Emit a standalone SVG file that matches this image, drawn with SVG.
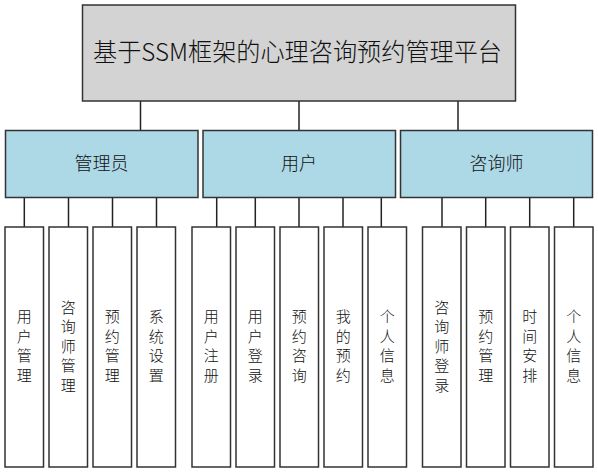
<svg xmlns="http://www.w3.org/2000/svg" width="598" height="473" viewBox="0 0 598 473">
<style>
text{font-family:"Noto Sans CJK SC","Microsoft YaHei",sans-serif;font-weight:300;fill:#111;text-anchor:middle}
.root{fill:#d3d3d3;stroke:#333;stroke-width:1.5}
.mid{fill:#add8e6;stroke:#333;stroke-width:1.5}
.leaf{fill:#fff;stroke:#333;stroke-width:1.5}
.t1{font-size:25px}
.t2{font-size:18px}
.t3{font-size:15px}
#connectors line{stroke:#222;stroke-width:1.5}
</style>
<rect width="598" height="473" fill="#fff"/>
<g id="connectors">
<line x1="140.5" y1="101" x2="140.5" y2="130.5"/>
<line x1="299" y1="101" x2="299" y2="130.5"/>
<line x1="458" y1="101" x2="458" y2="130.5"/>
<line x1="24.3" y1="197.7" x2="24.3" y2="227"/>
<line x1="68.5" y1="197.7" x2="68.5" y2="227"/>
<line x1="112.5" y1="197.7" x2="112.5" y2="227"/>
<line x1="156.5" y1="197.7" x2="156.5" y2="227"/>
<line x1="216.7" y1="197.7" x2="216.7" y2="227"/>
<line x1="255.3" y1="197.7" x2="255.3" y2="227"/>
<line x1="299" y1="197.7" x2="299" y2="227"/>
<line x1="343" y1="197.7" x2="343" y2="227"/>
<line x1="381.3" y1="197.7" x2="381.3" y2="227"/>
<line x1="442" y1="197.7" x2="442" y2="227"/>
<line x1="485.7" y1="197.7" x2="485.7" y2="227"/>
<line x1="529.7" y1="197.7" x2="529.7" y2="227"/>
<line x1="573.7" y1="197.7" x2="573.7" y2="227"/>
</g>
<g id="root"><rect class="root" x="82.5" y="5" width="433" height="96"/><text class="t1" x="297.5" y="61" textLength="409" lengthAdjust="spacingAndGlyphs">基于SSM框架的心理咨询预约管理平台</text></g>
<g id="admin"><rect class="mid" x="5.5" y="130.5" width="192.5" height="67"/><text class="t2" x="101.5" y="170">管理员</text></g>
<g id="user"><rect class="mid" x="203" y="130.5" width="192.5" height="67"/><text class="t2" x="299" y="170">用户</text></g>
<g id="counselor"><rect class="mid" x="400.5" y="130.5" width="192" height="67"/><text class="t2" x="496.5" y="170">咨询师</text></g>
<g id="leaf1"><rect class="leaf" x="5" y="227" width="38.5" height="240"/><text class="t3"><tspan x="24.3" y="322.2">用</tspan><tspan x="24.3" dy="19.5">户</tspan><tspan x="24.3" dy="19.5">管</tspan><tspan x="24.3" dy="19.5">理</tspan></text></g>
<g id="leaf2"><rect class="leaf" x="49" y="227" width="38.5" height="240"/><text class="t3"><tspan x="68.3" y="312.5">咨</tspan><tspan x="68.3" dy="19.5">询</tspan><tspan x="68.3" dy="19.5">师</tspan><tspan x="68.3" dy="19.5">管</tspan><tspan x="68.3" dy="19.5">理</tspan></text></g>
<g id="leaf3"><rect class="leaf" x="93" y="227" width="38.5" height="240"/><text class="t3"><tspan x="112.3" y="322.2">预</tspan><tspan x="112.3" dy="19.5">约</tspan><tspan x="112.3" dy="19.5">管</tspan><tspan x="112.3" dy="19.5">理</tspan></text></g>
<g id="leaf4"><rect class="leaf" x="137" y="227" width="38.5" height="240"/><text class="t3"><tspan x="156.3" y="322.2">系</tspan><tspan x="156.3" dy="19.5">统</tspan><tspan x="156.3" dy="19.5">设</tspan><tspan x="156.3" dy="19.5">置</tspan></text></g>
<g id="leaf5"><rect class="leaf" x="192" y="227" width="38.5" height="240"/><text class="t3"><tspan x="211.3" y="322.2">用</tspan><tspan x="211.3" dy="19.5">户</tspan><tspan x="211.3" dy="19.5">注</tspan><tspan x="211.3" dy="19.5">册</tspan></text></g>
<g id="leaf6"><rect class="leaf" x="236" y="227" width="38.5" height="240"/><text class="t3"><tspan x="255.3" y="322.2">用</tspan><tspan x="255.3" dy="19.5">户</tspan><tspan x="255.3" dy="19.5">登</tspan><tspan x="255.3" dy="19.5">录</tspan></text></g>
<g id="leaf7"><rect class="leaf" x="280" y="227" width="38.5" height="240"/><text class="t3"><tspan x="299.3" y="322.2">预</tspan><tspan x="299.3" dy="19.5">约</tspan><tspan x="299.3" dy="19.5">咨</tspan><tspan x="299.3" dy="19.5">询</tspan></text></g>
<g id="leaf8"><rect class="leaf" x="324" y="227" width="38.5" height="240"/><text class="t3"><tspan x="343.3" y="322.2">我</tspan><tspan x="343.3" dy="19.5">的</tspan><tspan x="343.3" dy="19.5">预</tspan><tspan x="343.3" dy="19.5">约</tspan></text></g>
<g id="leaf9"><rect class="leaf" x="368" y="227" width="38.5" height="240"/><text class="t3"><tspan x="387.3" y="322.2">个</tspan><tspan x="387.3" dy="19.5">人</tspan><tspan x="387.3" dy="19.5">信</tspan><tspan x="387.3" dy="19.5">息</tspan></text></g>
<g id="leaf10"><rect class="leaf" x="422.5" y="227" width="38.5" height="240"/><text class="t3"><tspan x="441.8" y="312.5">咨</tspan><tspan x="441.8" dy="19.5">询</tspan><tspan x="441.8" dy="19.5">师</tspan><tspan x="441.8" dy="19.5">登</tspan><tspan x="441.8" dy="19.5">录</tspan></text></g>
<g id="leaf11"><rect class="leaf" x="466.5" y="227" width="38.5" height="240"/><text class="t3"><tspan x="485.8" y="322.2">预</tspan><tspan x="485.8" dy="19.5">约</tspan><tspan x="485.8" dy="19.5">管</tspan><tspan x="485.8" dy="19.5">理</tspan></text></g>
<g id="leaf12"><rect class="leaf" x="510.5" y="227" width="38.5" height="240"/><text class="t3"><tspan x="529.8" y="322.2">时</tspan><tspan x="529.8" dy="19.5">间</tspan><tspan x="529.8" dy="19.5">安</tspan><tspan x="529.8" dy="19.5">排</tspan></text></g>
<g id="leaf13"><rect class="leaf" x="554.5" y="227" width="38.5" height="240"/><text class="t3"><tspan x="573.8" y="322.2">个</tspan><tspan x="573.8" dy="19.5">人</tspan><tspan x="573.8" dy="19.5">信</tspan><tspan x="573.8" dy="19.5">息</tspan></text></g>
</svg>
